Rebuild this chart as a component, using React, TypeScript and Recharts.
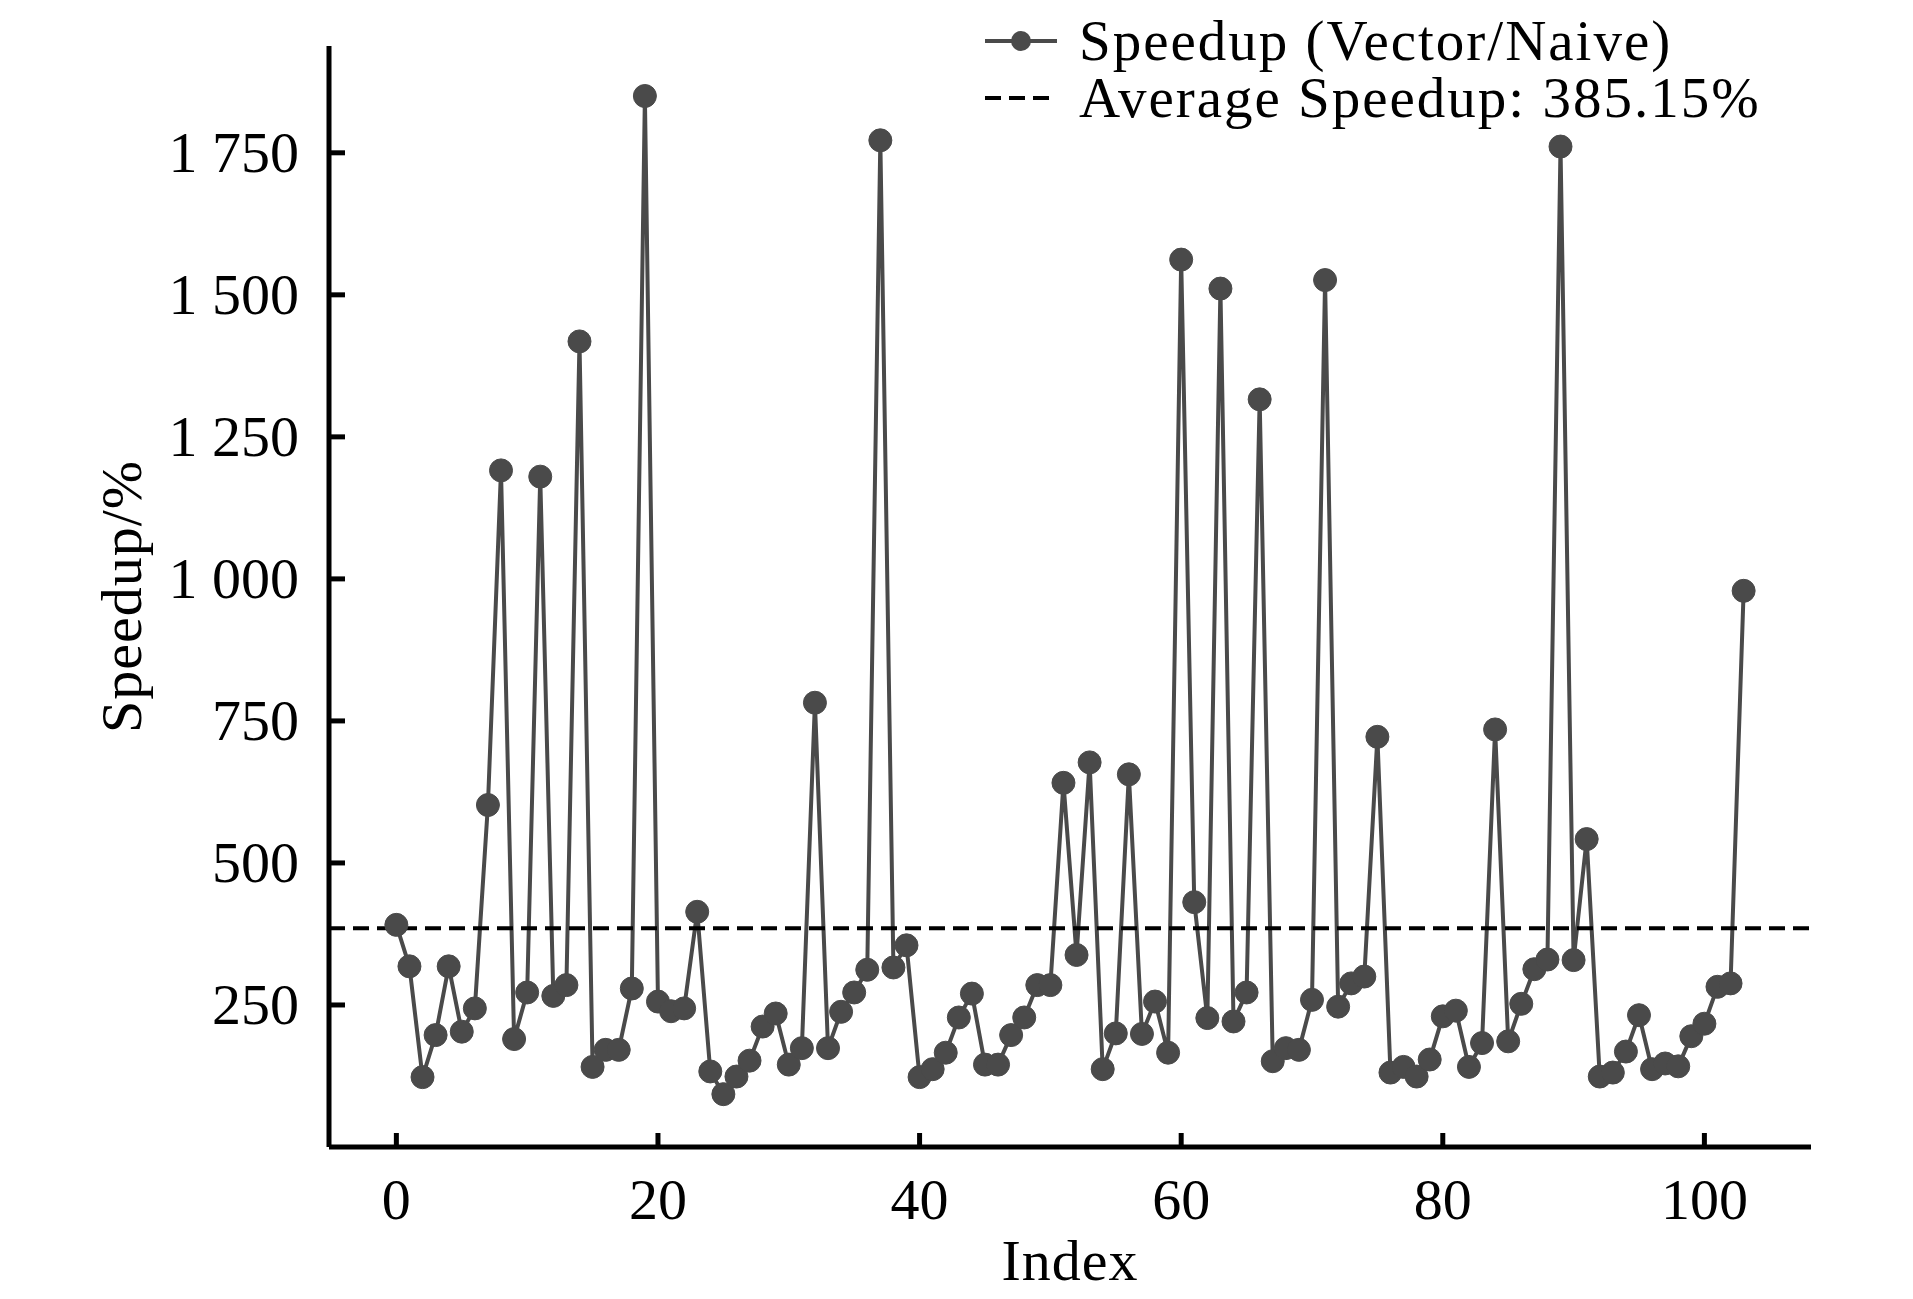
import { LineChart, Line, XAxis, YAxis, ReferenceLine, Legend } from 'recharts'

const FONT = '"Liberation Serif", "Times New Roman", serif'
const GREY = '#4a4a4a'

// speedup (%) per benchmark index
const speedups = [
  391, 318, 123, 197, 318, 203, 244, 602, 1191, 190,
  272, 1180, 266, 285, 1418, 141, 171, 171, 279, 1850,
  256, 239, 244, 414, 133, 93, 124, 152, 212, 235,
  145, 174, 782, 174, 238, 272, 312, 1772, 316, 355,
  123, 137, 166, 228, 270, 145, 145, 197, 228, 285,
  285, 641, 338, 677, 137, 200, 656, 199, 256, 166,
  1562, 431, 227, 1511, 221, 272, 1316, 151, 174, 171,
  259, 1526, 247, 288, 300, 722, 131, 141, 124, 154,
  230, 240, 141, 183, 735, 186, 252, 313, 330, 1761,
  329, 542, 124, 131, 168, 232, 137, 147, 142, 195,
  217, 282, 288, 979,
]
const AVG_SPEEDUP = 385.15
const SERIES_NAME = 'Speedup (Vector/Naive)'
const AVG_NAME = `Average Speedup: ${AVG_SPEEDUP.toFixed(2)}%`

const xTicks = [0, 20, 40, 60, 80, 100]
const yTicks = [250, 500, 750, 1000, 1250, 1500, 1750]

const data = speedups.map((v, i) => ({ index: i, speedup: v }))

// thousands separated by a space, like "1 750"
const fmtY = (v: number) => (v >= 1000 ? `${Math.floor(v / 1000)} ${String(v % 1000).padStart(3, '0')}` : String(v))

function XTick({ x, y, payload }: any) {
  return (
    <g>
      <line x1={x} x2={x} y1={y} y2={y - 14} stroke="#000" strokeWidth={5} />
      <text x={x} y={y + 52} textAnchor="middle" dominantBaseline="central" fontSize={58} fontFamily={FONT} fill="#000">
        {payload.value}
      </text>
    </g>
  )
}

function YTick({ x, y, payload }: any) {
  return (
    <g>
      <line x1={x} x2={x + 16} y1={y} y2={y} stroke="#000" strokeWidth={5} />
      <text x={x - 30} y={y} textAnchor="end" dominantBaseline="central" fontSize={58} fontFamily={FONT} fill="#000">
        {fmtY(payload.value)}
      </text>
    </g>
  )
}

const renderXTitle = ({ viewBox }: any) => (
  <text x={viewBox.x + viewBox.width / 2} y={viewBox.y + 113} textAnchor="middle" dominantBaseline="central"
    fontSize={58} fontFamily={FONT} fill="#000" letterSpacing={1}>Index</text>
)

const renderYTitle = ({ viewBox }: any) => {
  const cx = viewBox.x + 121
  const cy = viewBox.y + viewBox.height / 2
  return (
    <text x={cx} y={cy} transform={`rotate(-90, ${cx}, ${cy})`} textAnchor="middle" dominantBaseline="central"
      fontSize={58} fontFamily={FONT} fill="#000" letterSpacing={1}>Speedup/%</text>
  )
}

function LegendBox({ payload }: any) {
  const first = payload && payload[0] ? payload[0].value : SERIES_NAME
  const row = { display: 'flex', alignItems: 'center', height: 57 }
  return (
    <div style={{ fontFamily: FONT, fontSize: 57, lineHeight: '57px', letterSpacing: 2, color: '#000', whiteSpace: 'nowrap' as const }}>
      <div style={row}>
        <svg width={72} height={30}>
          <line x1={0} x2={72} y1={15} y2={15} stroke={GREY} strokeWidth={4} />
          <circle cx={36} cy={15} r={10} fill={GREY} />
        </svg>
        <span style={{ marginLeft: 22 }}>{first}</span>
      </div>
      <div style={row}>
        <svg width={72} height={30}>
          <line x1={0} x2={72} y1={15} y2={15} stroke="#000" strokeWidth={4} strokeDasharray="16 8" />
        </svg>
        <span style={{ marginLeft: 22 }}>{AVG_NAME}</span>
      </div>
    </div>
  )
}

export default function App() {
  return (
    <div style={{ position: 'absolute', left: 0, top: 0, width: 1913, height: 1299, background: '#fff' }}>
      <LineChart width={1913} height={1299} data={data} margin={{ top: 46, right: 102, bottom: 0, left: 0 }}>
        <XAxis
          type="number"
          dataKey="index"
          domain={[-5.15, 108.15]}
          ticks={xTicks}
          height={152}
          tickSize={0}
          tickMargin={0}
          tickLine={false}
          axisLine={{ stroke: '#000', strokeWidth: 5 }}
          tick={<XTick />}
          label={{ value: 'Index', content: renderXTitle }}
        />
        <YAxis
          type="number"
          domain={[0, 1938]}
          ticks={yTicks}
          width={329}
          tickSize={0}
          tickMargin={0}
          tickLine={false}
          axisLine={{ stroke: '#000', strokeWidth: 5 }}
          tick={<YTick />}
          label={{ value: 'Speedup/%', content: renderYTitle }}
        />
        <Line
          type="linear"
          dataKey="speedup"
          name={SERIES_NAME}
          stroke={GREY}
          strokeWidth={4}
          dot={{ r: 11.5, fill: GREY, stroke: GREY, strokeWidth: 1 }}
          activeDot={false}
          isAnimationActive={false}
        />
        <ReferenceLine y={AVG_SPEEDUP} stroke="#000" strokeWidth={4} strokeDasharray="16 8" />
        <Legend
          layout="horizontal"
          verticalAlign="middle"
          align="center"
          wrapperStyle={{ top: 12, left: 985, width: 'auto', height: 'auto' }}
          content={<LegendBox />}
        />
      </LineChart>
    </div>
  )
}
